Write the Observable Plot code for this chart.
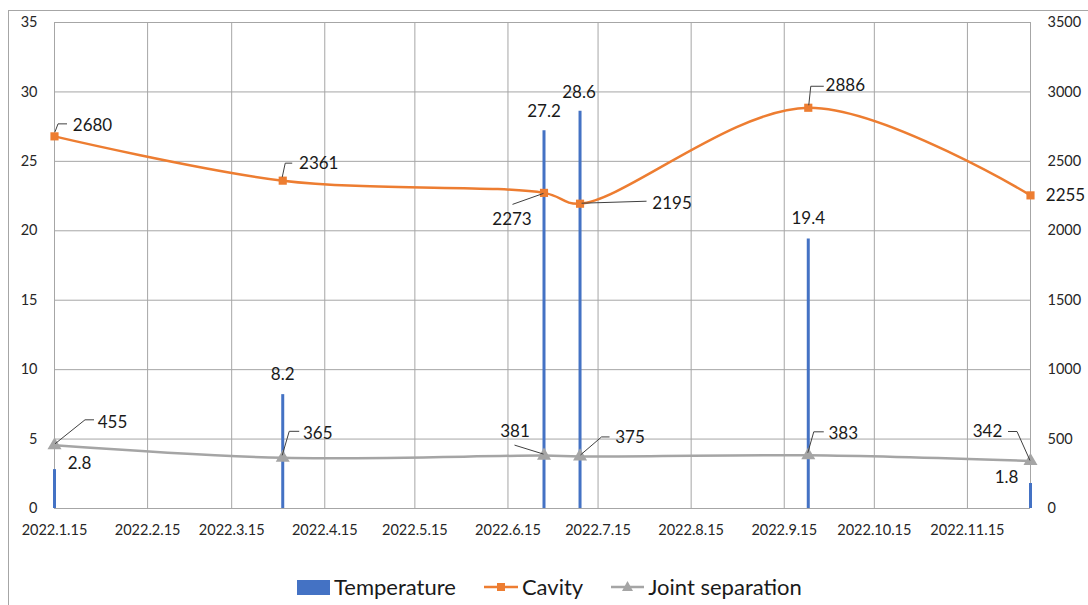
<!DOCTYPE html>
<html>
<head>
<meta charset="utf-8">
<script src="https://cdn.jsdelivr.net/npm/d3@7"></script>
<script src="https://cdn.jsdelivr.net/npm/@observablehq/plot@0.6"></script>
<style>
  html, body { margin: 0; padding: 0; background: #fff; }
  body { width: 1088px; height: 605px; position: relative; overflow: hidden; font-family: Lato, "Open Sans", sans-serif; }
  #frame { position: absolute; left: 8px; top: 10px; width: 1200px; height: 700px; border-left: 1px solid #a6a6a6; border-top: 1px solid #a6a6a6; }
  #chart { position: absolute; left: 0; top: 0; }
  #legend { position: absolute; left: 297px; top: 573px; display: flex; align-items: center; font-size: 22px; color: #1a1a1a; white-space: nowrap; }
  .item { display: flex; align-items: center; margin-right: 28px; }
  .item svg { margin-right: 4px; }
</style>
</head>
<body>
<div id="frame"></div>
<div id="chart"></div>
<div id="legend"></div>
<script>
// ---- data ----
const dates = ["2022-01-15", "2022-04-01", "2022-06-27", "2022-07-09", "2022-09-23", "2022-12-06"];
const temperature = [2.8, 8.2, 27.2, 28.6, 19.4, 1.8];
const cavity = [2680, 2361, 2273, 2195, 2886, 2255];
const jointSeparation = [455, 365, 381, 375, 383, 342];
const xTickDates = ["2022-01-15", "2022-02-15", "2022-03-15", "2022-04-15", "2022-05-15", "2022-06-15",
                    "2022-07-15", "2022-08-15", "2022-09-15", "2022-10-15", "2022-11-15"];
const leftTicks = [0, 5, 10, 15, 20, 25, 30, 35];
const rightFactor = 100; // right axis 0–3500 vs left 0–35
const seriesNames = ["Temperature", "Cavity", "Joint separation"];

// ---- styling: label offsets (px) and leader paths (px, relative to point) ----
const tempLabelOff = [[25, -6], [0, -20], [0, -19], [-1, -19], [0, -21], [-24, -6]];
const cavLabelOff = [[38, -11], [36, -17], [-32, 27], [92, 0], [37, -22], [35, 0]];
const cavLeaders = [
  [[1, -4], [4, -12], [13, -12]],
  [[0, -3], [3, -17], [10, -17]],
  [[0, 1], [-31, 12]],
  [[2, 0], [67, -2]],
  [[1, -2], [3, -21], [16, -21]],
  null
];
const jointLabelOff = [[58, -23], [35, -24], [-29, -24], [50, -19], [35, -22], [-43, -29]];
const jointLeaders = [
  [[1, -1], [31, -25], [40, -25]],
  [[0, -2], [7, -26], [17, -26]],
  [[-29, -10], [0, -1]],
  [[1, -1], [22, -19], [30, -19]],
  [[0, -2], [6, -23], [16, -23]],
  [[-22, -29], [-13, -29], [0, 0]]
];

const BLUE = "#4472C4", ORANGE = "#ED7D31", GRAY = "#A5A5A5", GRID = "#a6a6a6";

const rows = dates.map((d, i) => ({
  date: new Date(d),
  temperature: temperature[i],
  cavity: cavity[i] / rightFactor,
  joint: jointSeparation[i] / rightFactor,
  cavityText: String(cavity[i]),
  jointText: String(jointSeparation[i]),
  tempText: String(temperature[i])
}));
const xTicks = xTickDates.map(d => new Date(d));
const fmtDate = d => `${d.getUTCFullYear()}.${d.getUTCMonth() + 1}.${d.getUTCDate()}`;

function leaderMark(data, yKey, paths) {
  return Plot.dot(data, {
    x: "date", y: yKey, r: 1,
    render: (index, scales, values) => {
      const g = d3.create("svg:g");
      for (const i of index) {
        const pts = paths[i];
        if (!pts) continue;
        g.append("path")
          .attr("d", "M" + pts.map(([a, b]) => `${values.x[i] + a},${values.y[i] + b}`).join("L"))
          .attr("fill", "none").attr("stroke", "#404040").attr("stroke-width", 1);
      }
      return g.node();
    }
  });
}

const labelMarks = [];
rows.forEach((r, i) => {
  labelMarks.push(Plot.text([r], {x: "date", y: "temperature", text: "tempText", dx: tempLabelOff[i][0], dy: tempLabelOff[i][1], fontSize: 17, fill: "#1a1a1a"}));
  labelMarks.push(Plot.text([r], {x: "date", y: "cavity", text: "cavityText", dx: cavLabelOff[i][0], dy: cavLabelOff[i][1], fontSize: 17, fill: "#1a1a1a"}));
  labelMarks.push(Plot.text([r], {x: "date", y: "joint", text: "jointText", dx: jointLabelOff[i][0], dy: jointLabelOff[i][1], fontSize: 17, fill: "#1a1a1a"}));
});

const chart = Plot.plot({
  width: 1088,
  height: 562,
  marginTop: 22,
  marginBottom: 54,
  marginLeft: 54,
  marginRight: 58,
  style: {fontFamily: "Lato, 'Open Sans', sans-serif", fontSize: "14.5px", background: "transparent", overflow: "visible"},
  x: {type: "utc", domain: [rows[0].date, rows[rows.length - 1].date]},
  y: {domain: [0, 35]},
  marks: [
    Plot.gridX(xTicks, {stroke: GRID, strokeOpacity: 1, strokeWidth: 1}),
    Plot.gridY(leftTicks, {stroke: GRID, strokeOpacity: 1, strokeWidth: 1}),
    Plot.ruleX([rows[rows.length - 1].date], {stroke: GRID, strokeWidth: 1}),
    Plot.axisX(xTicks, {tickSize: 0, tickPadding: 16, tickFormat: fmtDate, fill: "#262626", label: null}),
    Plot.axisY(leftTicks, {anchor: "left", tickSize: 0, tickPadding: 17, fill: "#262626", label: null}),
    Plot.axisY(leftTicks, {anchor: "right", tickSize: 0, tickPadding: 17, tickFormat: d => String(d * rightFactor), fill: "#262626", label: null}),
    Plot.ruleX(rows, {x: "date", y1: 0, y2: "temperature", stroke: BLUE, strokeWidth: 3}),
    Plot.line(rows, {x: "date", y: "cavity", stroke: ORANGE, strokeWidth: 2.5, curve: "catmull-rom"}),
    Plot.line(rows, {x: "date", y: "joint", stroke: GRAY, strokeWidth: 2.5, curve: "catmull-rom"}),
    Plot.dot(rows, {x: "date", y: "cavity", symbol: "square", r: 4.6, fill: ORANGE, stroke: null}),
    Plot.dot(rows, {x: "date", y: "joint", symbol: "triangle", r: 5.2, fill: GRAY, stroke: null}),
    leaderMark(rows, "cavity", cavLeaders),
    leaderMark(rows, "joint", jointLeaders),
    ...labelMarks
  ]
});
document.getElementById("chart").appendChild(chart);

// ---- legend ----
const legend = d3.select("#legend");
const sym = [
  s => s.append("rect").attr("x", 0).attr("y", 3).attr("width", 33).attr("height", 15).attr("fill", BLUE),
  s => { s.append("line").attr("x1", 0).attr("x2", 34).attr("y1", 10).attr("y2", 10).attr("stroke", ORANGE).attr("stroke-width", 2.5);
         s.append("rect").attr("x", 13).attr("y", 6).attr("width", 8).attr("height", 8).attr("fill", ORANGE); },
  s => { s.append("line").attr("x1", 0).attr("x2", 33).attr("y1", 10).attr("y2", 10).attr("stroke", GRAY).attr("stroke-width", 2.5);
         s.append("path").attr("d", "M16.5,4L22,14L11,14Z").attr("fill", GRAY); }
];
const symW = [33, 34, 33];
seriesNames.forEach((name, i) => {
  const it = legend.append("div").attr("class", "item");
  const s = it.append("svg").attr("width", symW[i]).attr("height", 20);
  sym[i](s);
  it.append("span").text(name);
});
</script>
</body>
</html>
